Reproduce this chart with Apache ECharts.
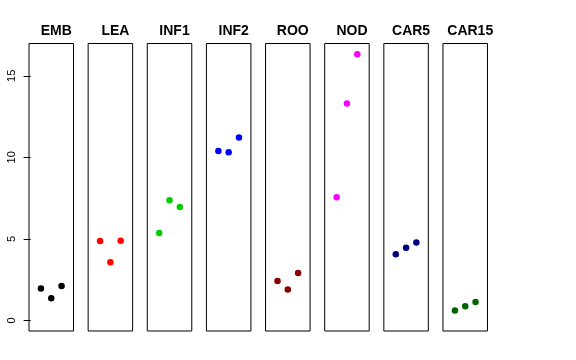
<!DOCTYPE html>
<html>
<head>
<meta charset="utf-8">
<script src="https://cdn.jsdelivr.net/npm/echarts@6/dist/echarts.min.js"></script>
<style>html,body{margin:0;padding:0;background:#fff}#c{width:576px;height:360px}</style>
</head>
<body>
<div id="c"></div>
<script>
const categories = ['EMB', 'LEA', 'INF1', 'INF2', 'ROO', 'NOD', 'CAR5', 'CAR15'];
const EMB   = [1.96, 1.35, 2.10];
const LEA   = [4.87, 3.57, 4.88];
const INF1  = [5.36, 7.37, 6.96];
const INF2  = [10.39, 10.31, 11.21];
const ROO   = [2.41, 1.90, 2.90];
const NOD   = [7.55, 13.31, 16.33];
const CAR5  = [4.06, 4.45, 4.78];
const CAR15 = [0.61, 0.86, 1.12];
const panelValues = [EMB, LEA, INF1, INF2, ROO, NOD, CAR5, CAR15];
const colors = ['#000000', '#FF0000', '#00CD00', '#0000FF', '#8B0000', '#FF00FF', '#000080', '#006400'];
const yTicks = [0, 5, 10, 15];
const xPositions = [1, 2, 3];

const yMax = 16.33, yMin = 0;
const pad = (yMax - yMin) * 0.04;

const grids = [], xAxes = [], yAxes = [], series = [], titles = [];
const left0 = 29, step = 59.14, gw = 44.5, gTop = 43.5, gh = 287.5;
categories.forEach((cat, i) => {
  const gl = left0 + step * i;
  grids.push({left: gl, top: gTop, width: gw, height: gh, show: true,
    borderColor: '#000', borderWidth: 1, backgroundColor: 'transparent'});
  xAxes.push({type: 'value', gridIndex: i, min: -0.16, max: 4.16, show: false});
  yAxes.push({type: 'value', gridIndex: i, min: yMin - pad, max: yMax + pad,
    show: i === 0, splitLine: {show: false},
    axisLine: {show: false},
    axisTick: {show: true, inside: false, length: 7, lineStyle: {color: '#000'}, customValues: yTicks},
    axisLabel: {show: true, rotate: 90, margin: 12, color: '#000', fontSize: 11,
      fontFamily: 'Liberation Sans, Arial, sans-serif', customValues: yTicks}
  });
  series.push({type: 'scatter', xAxisIndex: i, yAxisIndex: i, symbol: 'circle', symbolSize: 6.5,
    itemStyle: {color: colors[i], opacity: 1},
    data: panelValues[i].map((v, k) => [xPositions[k], v]), silent: true, animation: false});
  titles.push({text: cat, left: gl + gw / 2, top: 19, textAlign: 'center',
    textStyle: {fontSize: 14, fontWeight: 'bold', color: '#000', fontFamily: 'Liberation Sans, Arial, sans-serif'}});
});

const chart = echarts.init(document.getElementById('c'), null, {renderer: 'canvas'});
chart.setOption({
  animation: false,
  backgroundColor: '#fff',
  title: titles,
  grid: grids,
  xAxis: xAxes,
  yAxis: yAxes,
  series: series
});
</script>
</body>
</html>
